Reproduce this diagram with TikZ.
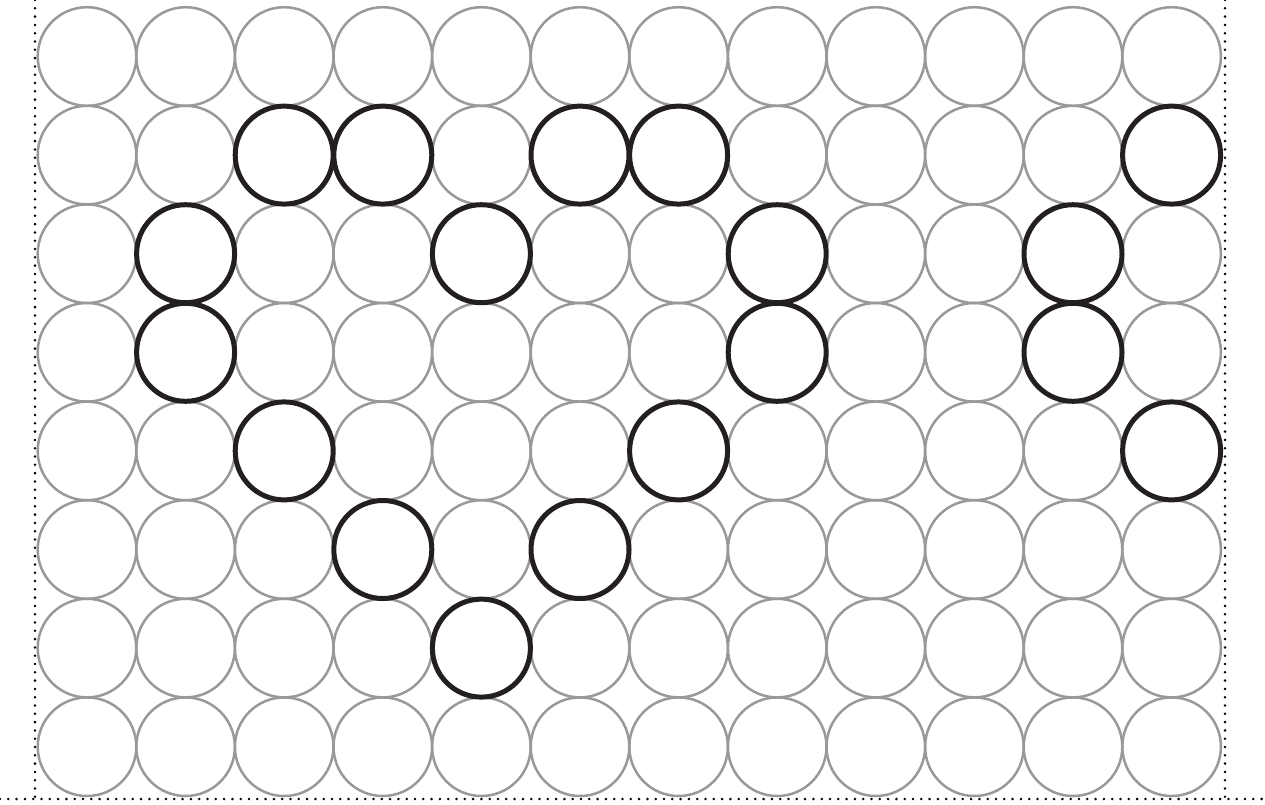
\documentclass[tikz,border=0pt]{standalone}
\definecolor{ringgray}{HTML}{999999}
\definecolor{ringblack}{HTML}{231F20}
\tikzset{
  ring/.style={circle, draw=ringgray, line width=2.5pt, minimum size=98.6pt, inner sep=0pt, outer sep=0pt},
  hotring/.style={circle, draw=ringblack, line width=5pt, minimum size=98pt, inner sep=0pt, outer sep=0pt},
  dotline/.style={line width=2.8pt, line cap=round, dash pattern=on 0pt off 8.3pt, black}
}
\begin{document}
\begin{tikzpicture}[x=1pt,y=-1pt]
\useasboundingbox (0,0) rectangle (1265,804);
% gray grid of rings
\foreach \r in {1,...,8}{
  \foreach \c in {1,...,12}{
    \node[ring] (c-\r-\c) at ({87+98.6*(\c-1)},{56.5+98.6*(\r-1)}) {};
  }
}
% highlighted rings
\foreach \r/\c in {2/3,2/4,2/6,2/7,2/12,3/2,3/5,3/8,3/11,4/2,4/8,4/11,5/3,5/7,5/12,6/4,6/6,7/5}{
  \node[hotring] (h-\r-\c) at (c-\r-\c.center) {};
}
% dotted frame
\coordinate (tl) at (35,0);
\coordinate (bl) at (35,797);
\coordinate (tr) at (1225,0);
\coordinate (br) at (1225,797);
\coordinate (bL) at (0,799);
\coordinate (bR) at (1265,799);
\draw[dotline] (tl) -- (bl);
\draw[dotline] (tr) -- (br);
\draw[dotline] (bL) -- (bR);
\end{tikzpicture}
\end{document}
